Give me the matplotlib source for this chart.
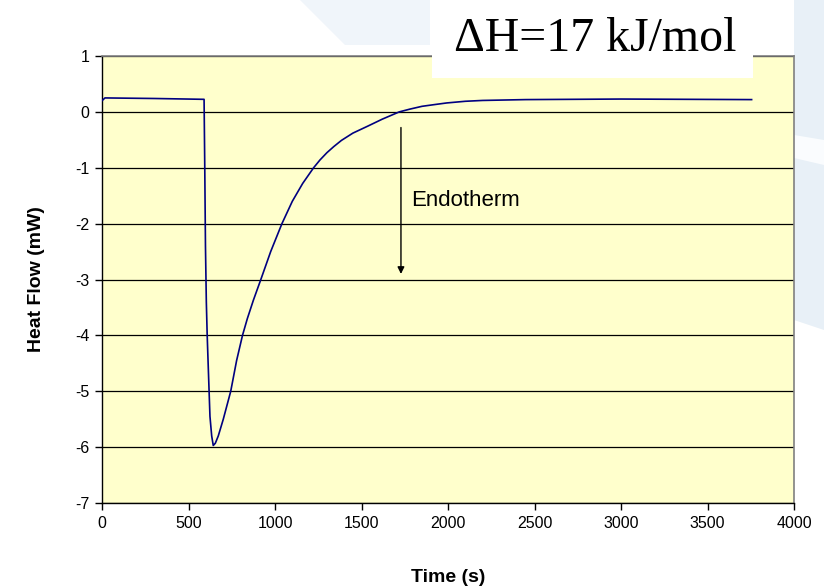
import numpy as np
import matplotlib.pyplot as plt
from matplotlib.patches import Polygon, Rectangle

# DSC trace
time_s = [0, 17, 300, 590, 594, 598, 603, 608, 614, 619, 624, 634, 643, 655, 672, 701,
          744, 778, 812, 840, 875, 918, 975, 1040, 1100, 1160, 1223, 1260, 1300, 1340,
          1384, 1450, 1536, 1620, 1718, 1780, 1850, 1920, 1992, 2100, 2200, 2448,
          3000, 3755]
heat_flow = [0.20, 0.25, 0.24, 0.225, -1.0, -2.4, -3.4, -4.0, -4.55, -5.0, -5.45, -5.8,
             -5.97, -5.93, -5.8, -5.5, -5.0, -4.45, -4.0, -3.7, -3.37, -3.0, -2.5, -2.0,
             -1.6, -1.28, -1.0, -0.86, -0.73, -0.62, -0.51, -0.38, -0.255, -0.13, 0.0,
             0.05, 0.1, 0.13, 0.16, 0.19, 0.205, 0.22, 0.23, 0.22]

x_ticks = [0, 500, 1000, 1500, 2000, 2500, 3000, 3500, 4000]
y_ticks = [1, 0, -1, -2, -3, -4, -5, -6, -7]

plt.rcParams['font.family'] = ['Liberation Sans', 'DejaVu Sans']
plt.rcParams['axes.unicode_minus'] = False

fig = plt.figure(figsize=(8.24, 5.86), dpi=100)

# faint slide watermark behind everything
bg = fig.add_axes([0, 0, 1, 1], zorder=-10)
bg.set_xlim(0, 824)
bg.set_ylim(586, 0)
bg.axis('off')
bg.add_patch(Polygon([(300, 0), (430, 0), (430, 45), (345, 45)],
                     facecolor='#f0f5fa', edgecolor='none'))
bg.add_patch(Polygon([(794, 0), (824, 0), (824, 330), (794, 320)],
                     facecolor='#e8f0f7', edgecolor='none'))
bg.add_patch(Polygon([(794, 135), (824, 140), (824, 165), (794, 158)],
                     facecolor='#fafcfe', edgecolor='none'))

ax = fig.add_axes([0.1238, 0.1416, 0.8398, 0.7628])
ax.set_facecolor('#ffffcc')

ax.plot(time_s, heat_flow, color='#000080', lw=1.2, zorder=3)

ax.set_xlim(0, 4000)
ax.set_ylim(-7, 1)
ax.set_xticks(x_ticks)
ax.set_yticks(y_ticks)
ax.tick_params(direction='out', length=5, width=1, labelsize=11.5, pad=4)
ax.grid(axis='y', color='black', lw=0.9)
ax.set_axisbelow(True)

for side in ['left', 'bottom']:
    ax.spines[side].set_color('black')
    ax.spines[side].set_linewidth(1)
for side in ['top', 'right']:
    ax.spines[side].set_color('#808080')
    ax.spines[side].set_linewidth(1.2)

ax.set_xlabel('Time (s)', fontsize=14, fontweight='bold', labelpad=28)
ax.set_ylabel('Heat Flow (mW)', fontsize=14, fontweight='bold', labelpad=22)

# endotherm arrow
ax.annotate('', xy=(1728, -2.95), xytext=(1728, -0.23),
            arrowprops=dict(arrowstyle='-|>', color='black', lw=1,
                            mutation_scale=10), zorder=4)
ax.text(1786, -1.69, 'Endotherm', fontsize=16, va='baseline', ha='left')

# enthalpy label box
fig.patches.append(Rectangle((432 / 824, 1 - 78 / 586), 321 / 824, 76 / 586,
                             transform=fig.transFigure, facecolor='white',
                             edgecolor='none', zorder=5))
fig.text(595 / 824, 1 - 39 / 586, '\u0394H=17 kJ/mol', fontsize=34.5,
         family=['Liberation Serif', 'DejaVu Serif'],
         ha='center', va='center', zorder=6)

fig.savefig('out.png', dpi=100)
